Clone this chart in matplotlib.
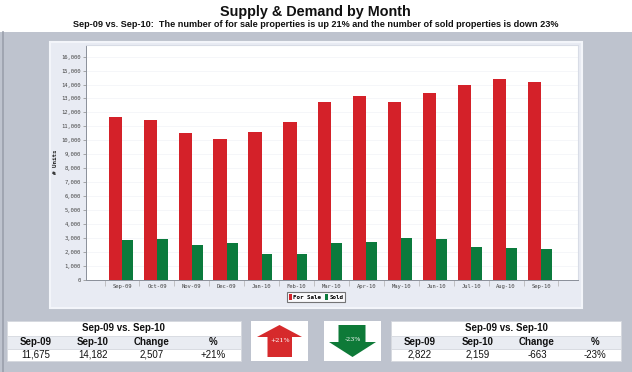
import matplotlib
matplotlib.use("Agg")
import matplotlib.pyplot as plt
from matplotlib.patches import Rectangle, Polygon
import numpy as np

# ---------------- data ----------------
months = ['Sep-09', 'Oct-09', 'Nov-09', 'Dec-09', 'Jan-10', 'Feb-10', 'Mar-10',
          'Apr-10', 'May-10', 'Jun-10', 'Jul-10', 'Aug-10', 'Sep-10']
for_sale = [11675, 11490, 10500, 10120, 10620, 11300, 12770,
            13150, 12720, 13390, 13970, 14420, 14182]
sold = [2822, 2900, 2510, 2640, 1820, 1840, 2590,
        2690, 2970, 2920, 2350, 2250, 2159]
series_names = ['For Sale', 'Sold']
title = 'Supply & Demand by Month'
subtitle = ('Sep-09 vs. Sep-10:  The number of for sale properties is up 21% '
            'and the number of sold properties is down 23%')

RED = '#D42129'
GREEN = '#0B7A3C'
GREY_BG = '#BEC3CE'
PANEL = '#E8EBF3'

W, H = 632, 372
fig = plt.figure(figsize=(W / 100, H / 100), dpi=100)
fig.patch.set_facecolor('white')

# background overlay in pixel coordinates
bg = fig.add_axes([0, 0, 1, 1], zorder=0)
bg.set_xlim(0, W)
bg.set_ylim(H, 0)
bg.axis('off')
bg.add_patch(Rectangle((0, 31.5), W, H - 31.5, facecolor=GREY_BG, edgecolor='none'))
bg.plot([2.5, 2.5], [31.5, H], color='#9AA0AC', lw=1.2)
bg.add_patch(Rectangle((50, 41.5), 532, 266, facecolor=PANEL, edgecolor='#F3F5FA', lw=1.5))

fs_title = dict(family='Liberation Sans', weight='bold', color='#111111')
bg.text(W / 2 - 1, 12, title, ha='center', va='center', fontsize=10.4, **fs_title)
bg.text(W / 2, 24.5, subtitle, ha='center', va='center', fontsize=6.6, **fs_title)

# ---------------- bar chart ----------------
ax = fig.add_axes([86 / W, 1 - 279.5 / H, 492 / W, 235 / H], zorder=2)
ax.set_facecolor('white')
x = np.arange(len(months))
ax.bar(x - 0.19, for_sale, width=0.38, color=RED, label=series_names[0], zorder=3)
ax.bar(x + 0.155, sold, width=0.31, color=GREEN, label=series_names[1], zorder=3)
ax.set_xlim(-1.03, 13.06)
ax.set_ylim(0, 16876)
ax.set_yticks(np.arange(0, 16001, 1000))
ax.set_yticklabels([f'{v:,}' for v in range(0, 16001, 1000)])
ax.yaxis.grid(True, color='#F4F5F8', lw=0.6, zorder=0)
ax.set_axisbelow(True)

for lab in ax.get_yticklabels():
    lab.set_fontfamily('DejaVu Sans Mono')
    lab.set_fontsize(4.0)
    lab.set_color('#444444')
ax.tick_params(axis='y', length=2, width=0.5, color='#888888', pad=2)

ax.set_xticks(np.arange(-0.5, len(months), 1.0))
ax.set_xticklabels([])
ax.tick_params(axis='x', length=4, width=0.5, color='#B0B0B0')
ax.set_xticks(x, minor=True)
ax.set_xticklabels(months, minor=True, fontfamily='DejaVu Sans Mono', fontsize=4.0, color='#444444')
ax.tick_params(axis='x', which='minor', length=0, pad=3)

for s in ['left', 'bottom']:
    ax.spines[s].set_color('#8A8F99')
    ax.spines[s].set_linewidth(0.7)
for s in ['top', 'right']:
    ax.spines[s].set_color('#D8DCE6')
    ax.spines[s].set_linewidth(0.8)

ax.set_ylabel('# Units', fontfamily='DejaVu Sans Mono', fontweight='bold', fontsize=4.2,
              color='#222222', labelpad=2)

leg = fig.legend(loc='center', bbox_to_anchor=(316 / W, 1 - 297 / H), ncol=2,
                 prop=dict(family='DejaVu Sans Mono', weight='bold', size=4.2),
                 frameon=True, fancybox=False, handlelength=0.5, handleheight=1.4,
                 handletextpad=0.3, columnspacing=0.6, borderpad=0.35, borderaxespad=0)
leg.get_frame().set_edgecolor('#555555')
leg.get_frame().set_linewidth(0.8)
leg.set_zorder(5)

# ---------------- summary tables ----------------
def fmt_int(v):
    return f'{v:,}'

def draw_table(x0, x1, first, last, col_x):
    y0, y1, y2, y3 = 320.5, 335.5, 348.5, 360.8
    bg.add_patch(Rectangle((x0, y0), x1 - x0, y3 - y0, facecolor='white', edgecolor='#D5D8DE', lw=0.6))
    bg.add_patch(Rectangle((x0, y1), x1 - x0, y2 - y1, facecolor='#E9ECF2', edgecolor='#D5D8DE', lw=0.6))
    change = last - first
    pct = round(change / first * 100)
    tf = dict(family='Liberation Sans', color='#111111', fontsize=7, ha='center', va='center')
    bg.text((x0 + x1) / 2, (y0 + y1) / 2 + 0.3, f'{months[0]} vs. {months[-1]}', weight='bold', **tf)
    heads = [months[0], months[-1], 'Change', '%']
    vals = [fmt_int(first), fmt_int(last), fmt_int(change), f'{pct:+d}%']
    for cx, hd, vv in zip(col_x, heads, vals):
        bg.text(cx, (y1 + y2) / 2 + 0.3, hd, weight='bold', **tf)
        bg.text(cx, (y2 + y3) / 2 + 0.3, vv, **tf)
    return pct

pct_sale = draw_table(7, 240.5, for_sale[0], for_sale[-1], [36, 93, 152, 213])
pct_sold = draw_table(391, 621, sold[0], sold[-1], [420, 478, 537, 595])

# arrow boxes
bg.add_patch(Rectangle((251, 320.5), 57, 40.3, facecolor='white', edgecolor='none'))
bg.add_patch(Rectangle((324, 320.5), 57, 40.3, facecolor='white', edgecolor='none'))
up = [(279.5, 325), (302, 337), (292, 337), (292, 357), (267.5, 357), (267.5, 337), (257, 337)]
bg.add_patch(Polygon(up, closed=True, facecolor='#D62A2C', edgecolor='none'))
down = [(338.5, 325), (365.5, 325), (365.5, 342), (376, 342), (352.5, 357), (329, 342), (338.5, 342)]
bg.add_patch(Polygon(down, closed=True, facecolor='#0E7A38', edgecolor='none'))
bg.text(280, 340.5, f'{pct_sale:+d}%', ha='center', va='center', color='white',
        fontsize=4.6, family='DejaVu Serif')
bg.text(352.5, 339.5, f'{pct_sold:+d}%', ha='center', va='center', color='white',
        fontsize=4.6, family='DejaVu Serif')

fig.savefig('out.png', dpi=100, facecolor='white')
